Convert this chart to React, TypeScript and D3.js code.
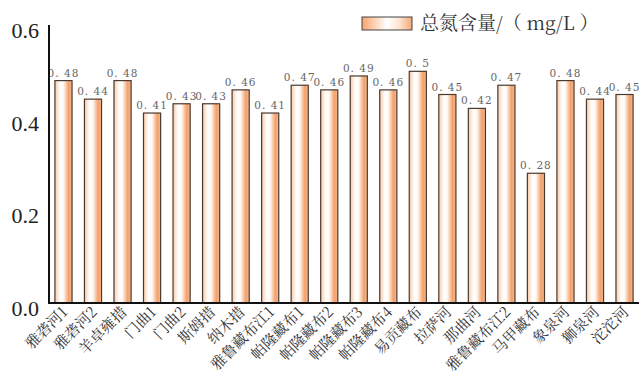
import React from "react";
import * as d3 from "d3";

const categories = ["雅砻河1", "雅砻河2", "羊卓雍措", "门曲1", "门曲2", "斯姆措", "纳木措", "雅鲁藏布江1", "帕隆藏布1", "帕隆藏布2", "帕隆藏布3", "帕隆藏布4", "易贡藏布", "拉萨河", "那曲河", "雅鲁藏布江2", "马甲藏布", "象泉河", "狮泉河", "沱沱河"];
const values = [0.48, 0.44, 0.48, 0.41, 0.43, 0.43, 0.46, 0.41, 0.47, 0.46, 0.49, 0.46, 0.5, 0.45, 0.42, 0.47, 0.28, 0.48, 0.44, 0.45];
const yTicks = [0.0, 0.2, 0.4, 0.6];
const seriesName = "总氮含量/（ mg/L ）";

const W = 639;
const H = 378;

export default function App() {
  const x = d3.scaleBand<string>().domain(categories).range([49, 639]).paddingInner(0.42).paddingOuter(0.2);
  const y = d3.scaleLinear().domain([0, 0.6]).range([303, 25]);
  const bw = x.bandwidth();
  return (
    <svg width={W} height={H} style={{ position: "absolute", left: 0, top: 0 }}>
      <defs>
        <linearGradient id="barGrad" x1="0" x2="1" y1="0" y2="0">
          <stop offset="0%" stopColor="#f9c9a6" />
          <stop offset="30%" stopColor="#ffffff" />
          <stop offset="50%" stopColor="#fff8f2" />
          <stop offset="80%" stopColor="#f3a06a" />
          <stop offset="100%" stopColor="#f6b890" />
        </linearGradient>
        <linearGradient id="legGrad" x1="0" x2="1" y1="0" y2="0">
          <stop offset="0%" stopColor="#f8a46c" />
          <stop offset="50%" stopColor="#ffffff" />
          <stop offset="75%" stopColor="#fde3d0" />
          <stop offset="100%" stopColor="#f4a878" />
        </linearGradient>
      </defs>
      <rect x={0} y={0} width={W} height={H} fill="#ffffff" />
      {categories.map((c, i) => {
        const bx = x(c) as number;
        const by = y(values[i]);
        return (
          <g key={c}>
            <rect x={bx} y={by} width={bw} height={y(0) - by} fill="url(#barGrad)" stroke="#4a3a30" strokeWidth={1.2} />
            <text x={bx + bw / 2} y={by - 4} textAnchor="middle" fontFamily="'DejaVu Serif', serif" fontSize={10.5} fill="#666" letterSpacing={1}>
              {values[i].toString().replace(".", ". ")}
            </text>
            <text
              transform={`translate(${bx + bw / 2 + 5},${313}) rotate(-45)`}
              textAnchor="end"
              fontFamily="'Noto Serif CJK SC', 'Noto Sans CJK SC', serif"
              fontSize={15}
              fill="#333"
            >
              {c}
            </text>
          </g>
        );
      })}
      <line x1={49} x2={49} y1={25} y2={303} stroke="#111" strokeWidth={2} />
      <line x1={48} x2={639} y1={303} y2={303} stroke="#111" strokeWidth={2} />
      {yTicks.map((t) => (
        <text key={t} x={39} y={y(t) + 13} textAnchor="end" fontFamily="'Liberation Serif', serif" fontSize={22} fill="#222">
          {t.toFixed(1)}
        </text>
      ))}
      <rect x={362} y={17} width={50} height={13} fill="url(#legGrad)" stroke="#444" strokeWidth={1} />
      <text x={420} y={30} fontFamily="'Noto Serif CJK SC', 'Noto Sans CJK SC', serif" fontSize={19} fill="#333">
        {seriesName}
      </text>
    </svg>
  );
}
